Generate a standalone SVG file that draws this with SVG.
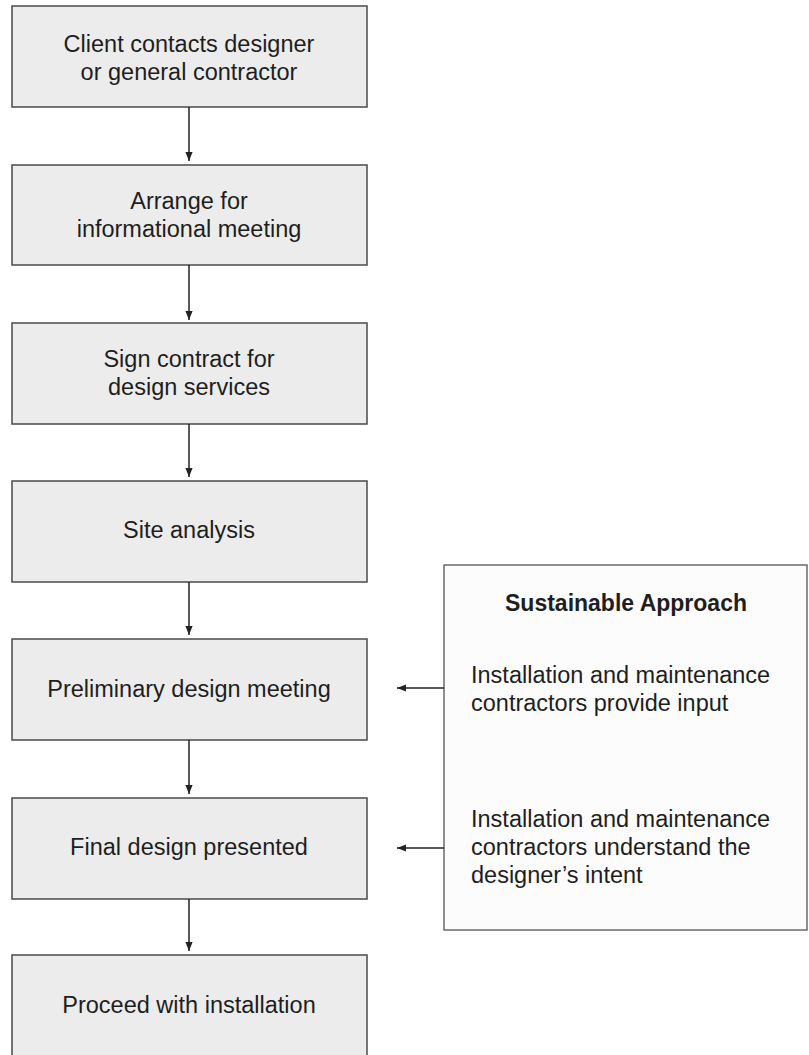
<svg xmlns="http://www.w3.org/2000/svg" width="809" height="1055" viewBox="0 0 809 1055">
<defs>
<style>
.box{fill:#ececec;stroke:#4a4a4a;stroke-width:1.5}
.side{fill:#fcfcfc;stroke:#6a6a6a;stroke-width:1.5}
.t{font-family:"Liberation Sans",Arial,sans-serif;font-size:23.5px;fill:#1e1e1e}
.c{text-anchor:middle}
.b{font-weight:bold;font-size:23px}
.conn{stroke:#222;stroke-width:1.5;fill:none}
</style>
<marker id="ah" viewBox="0 0 10 8" refX="10" refY="4" markerWidth="9" markerHeight="7.2" markerUnits="userSpaceOnUse" orient="auto">
<path d="M0,0 L10,4 L0,8 z" fill="#222"/>
</marker>
</defs>
<rect width="809" height="1055" fill="#ffffff"/>
<g id="n1"><rect class="box" x="12" y="6" width="355" height="101"/>
<text class="t c" x="189" y="52">Client contacts designer</text>
<text class="t c" x="189" y="80">or general contractor</text></g>
<g id="n2"><rect class="box" x="12" y="165" width="355" height="100"/>
<text class="t c" x="189" y="209">Arrange for</text>
<text class="t c" x="189" y="237">informational meeting</text></g>
<g id="n3"><rect class="box" x="12" y="323" width="355" height="101"/>
<text class="t c" x="189" y="367">Sign contract for</text>
<text class="t c" x="189" y="395">design services</text></g>
<g id="n4"><rect class="box" x="12" y="481" width="355" height="101"/>
<text class="t c" x="189" y="538">Site analysis</text></g>
<g id="n5"><rect class="box" x="12" y="639" width="355" height="101"/>
<text class="t c" x="189" y="697">Preliminary design meeting</text></g>
<g id="n6"><rect class="box" x="12" y="798" width="355" height="101"/>
<text class="t c" x="189" y="855">Final design presented</text></g>
<g id="n7"><rect class="box" x="12" y="955" width="355" height="105"/>
<text class="t c" x="189" y="1013">Proceed with installation</text></g>
<g id="sustainable"><rect class="side" x="444" y="565" width="363" height="365"/>
<text class="t c b" x="626" y="611">Sustainable Approach</text>
<text class="t" x="471" y="683">Installation and maintenance</text>
<text class="t" x="471" y="711">contractors provide input</text>
<text class="t" x="471" y="827">Installation and maintenance</text>
<text class="t" x="471" y="855">contractors understand the</text>
<text class="t" x="471" y="883">designer’s intent</text></g>
<g id="connectors">
<line class="conn" x1="189" y1="107" x2="189" y2="161" marker-end="url(#ah)"/>
<line class="conn" x1="189" y1="265" x2="189" y2="320" marker-end="url(#ah)"/>
<line class="conn" x1="189" y1="424" x2="189" y2="477" marker-end="url(#ah)"/>
<line class="conn" x1="189" y1="582" x2="189" y2="635" marker-end="url(#ah)"/>
<line class="conn" x1="189" y1="740" x2="189" y2="794" marker-end="url(#ah)"/>
<line class="conn" x1="189" y1="899" x2="189" y2="951" marker-end="url(#ah)"/>
<line class="conn" x1="444" y1="688" x2="397" y2="688" marker-end="url(#ah)"/>
<line class="conn" x1="444" y1="848" x2="397" y2="848" marker-end="url(#ah)"/>
</g>
</svg>
